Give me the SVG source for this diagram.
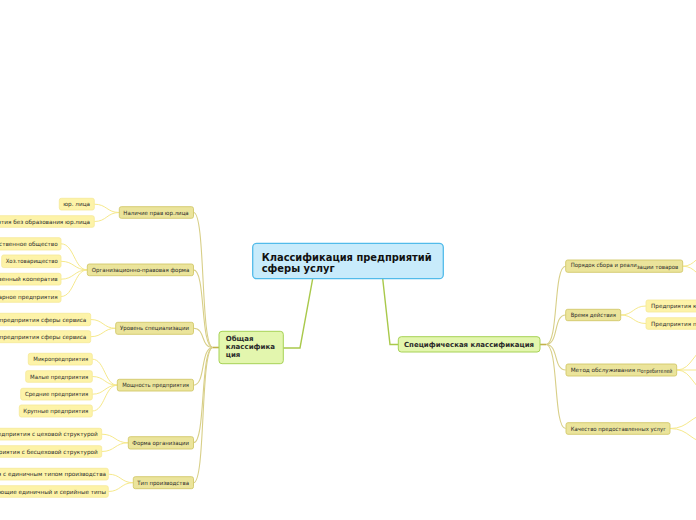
<svg xmlns="http://www.w3.org/2000/svg" width="696" height="520" viewBox="0 0 696 520">
<style>
.bg{fill:#ffffff}
.root rect{fill:#c8ebfb;stroke:#52bbea;stroke-width:1.3}
.l1 rect{fill:#e3f6ae;stroke:#a7d256;stroke-width:1}
.l2 rect{fill:#ebe49b;stroke:#d2c86a;stroke-width:0.9}
.l3 rect{fill:#fdf3a8;stroke:#f5e998;stroke-width:0.8}
text{font-family:"DejaVu Sans",Verdana,sans-serif;fill:#2a2a2a}
.t{font-size:5.7px}
.b1{font-size:7px;font-weight:bold}
.b0{font-size:10.8px;font-weight:bold;fill:#111}
.c0{fill:none;stroke:#a9c94b;stroke-width:1.4}
.c1{fill:none;stroke:#d8cf88;stroke-width:1.1}
.c2{fill:none;stroke:#f6e98c;stroke-width:1}
.stub{fill:none;stroke:#c2b24a;stroke-width:1.6}
</style>
<rect class="bg" x="0" y="0" width="696" height="520"/>
<g id="connectors">
<path class="c0" d="M312.7 278.7 L300 348 L283.3 348"/>
<path class="c0" d="M382.7 278.7 L390 344.5 L398.3 344.5"/>
<path class="stub" d="M213 347.5 L219 347.5"/>
<path class="stub" d="M540 344.5 L546 344.5"/>
<path class="c1" d="M213 347.5 C200 347.5 206 212.5 193.5 212.5"/>
<path class="c1" d="M213 347.5 C200 347.5 206 269.9 193.5 269.9"/>
<path class="c1" d="M213 347.5 C200 347.5 206 328.3 193.5 328.3"/>
<path class="c1" d="M213 347.5 C200 347.5 206 385.2 193.5 385.2"/>
<path class="c1" d="M213 347.5 C200 347.5 206 442.8 193.5 442.8"/>
<path class="c1" d="M213 347.5 C200 347.5 206 482.7 193.5 482.7"/>
<path class="c1" d="M546 344.5 C559 344.5 553 266.2 565.7 266.2"/>
<path class="c1" d="M546 344.5 C559 344.5 553 315 565.7 315"/>
<path class="c1" d="M546 344.5 C559 344.5 553 370 565.7 370"/>
<path class="c1" d="M546 344.5 C559 344.5 553 428.5 565.7 428.5"/>
<path class="c2" d="M119.3 212.5 C106.8 212.5 106.8 204.2 94.3 204.2"/>
<path class="c2" d="M119.3 212.5 C106.8 212.5 106.8 221.5 94.3 221.5"/>
<path class="c2" d="M87.3 269.9 C74.2 269.9 74.2 243.8 61 243.8"/>
<path class="c2" d="M87.3 269.9 C74.2 269.9 74.2 261.3 61 261.3"/>
<path class="c2" d="M87.3 269.9 C74.2 269.9 74.2 279.2 61 279.2"/>
<path class="c2" d="M87.3 269.9 C74.2 269.9 74.2 296.5 61 296.5"/>
<path class="c2" d="M115.7 328.3 C103.2 328.3 103.2 319.5 90.7 319.5"/>
<path class="c2" d="M115.7 328.3 C103.2 328.3 103.2 336.7 90.7 336.7"/>
<path class="c2" d="M117.3 385.2 C104.8 385.2 104.8 359.2 92.3 359.2"/>
<path class="c2" d="M117.3 385.2 C104.8 385.2 104.8 376.5 92.3 376.5"/>
<path class="c2" d="M117.3 385.2 C104.8 385.2 104.8 394.2 92.3 394.2"/>
<path class="c2" d="M117.3 385.2 C104.8 385.2 104.8 411 92.3 411"/>
<path class="c2" d="M128.3 442.8 C115 442.8 115 434.2 101.7 434.2"/>
<path class="c2" d="M128.3 442.8 C115 442.8 115 451.5 101.7 451.5"/>
<path class="c2" d="M133.3 482.7 C120.8 482.7 120.8 474.2 108.3 474.2"/>
<path class="c2" d="M133.3 482.7 C120.8 482.7 120.8 491.5 108.3 491.5"/>
<path class="c2" d="M620.7 315 C633.3 315 633.3 306 646 306"/>
<path class="c2" d="M620.7 315 C633.3 315 633.3 323.5 646 323.5"/>
<path class="c2" d="M682.7 266.2 C696 266.2 696 254 710 254"/>
<path class="c2" d="M682.7 266.2 C696 266.2 696 278 710 278"/>
<path class="c2" d="M676.7 370 C693 370 693 348 710 348"/>
<path class="c2" d="M676.7 370 L710 370"/>
<path class="c2" d="M676.7 370 C693 370 693 392 710 392"/>
<path class="c2" d="M670 428.5 C690 428.5 690 414 710 414"/>
<path class="c2" d="M670 428.5 C690 428.5 690 443 710 443"/>
</g>
<g id="root" class="root">
<rect x="252.7" y="243.3" width="190.6" height="35.4" rx="4"/>
<text class="b0" x="261.7" y="260.5" textLength="170" lengthAdjust="spacingAndGlyphs">Классификация предприятий</text>
<text class="b0" x="261.7" y="272" textLength="73" lengthAdjust="spacingAndGlyphs">сферы услуг</text>
</g>
<g id="general" class="l1">
<rect x="219" y="331.3" width="64.3" height="32.4" rx="3"/>
<text class="b1" x="225.7" y="341.3">Общая</text>
<text class="b1" x="225.7" y="349" textLength="49.3" lengthAdjust="spacingAndGlyphs">классифика</text>
<text class="b1" x="225.7" y="356.7">ция</text>
</g>
<g id="specific" class="l1">
<rect x="398.3" y="336.7" width="141.7" height="15.3" rx="3"/>
<text class="b1" x="404" y="346.9" textLength="130" lengthAdjust="spacingAndGlyphs">Специфическая классификация</text>
</g>
<g id="n-a" class="l2">
<rect x="119.3" y="206.7" width="74.2" height="11.6" rx="2"/>
<text class="t" x="123.3" y="214.5" textLength="65.4" lengthAdjust="spacingAndGlyphs">Наличие прав юр.лица</text>
</g>
<g id="n-b" class="l2">
<rect x="87.3" y="264" width="106.2" height="11.7" rx="2"/>
<text class="t" x="91.7" y="271.9" textLength="97.6" lengthAdjust="spacingAndGlyphs">Организационно-правовая форма</text>
</g>
<g id="n-c" class="l2">
<rect x="115.7" y="322.3" width="77.8" height="12" rx="2"/>
<text class="t" x="120" y="330.3" textLength="69" lengthAdjust="spacingAndGlyphs">Уровень специализации</text>
</g>
<g id="n-d" class="l2">
<rect x="117.3" y="379.3" width="76.2" height="11.7" rx="2"/>
<text class="t" x="122.3" y="387.2" textLength="66.7" lengthAdjust="spacingAndGlyphs">Мощность предприятия</text>
</g>
<g id="n-e" class="l2">
<rect x="128.3" y="436.7" width="65.2" height="12.3" rx="2"/>
<text class="t" x="132.3" y="444.8" textLength="56.7" lengthAdjust="spacingAndGlyphs">Форма организации</text>
</g>
<g id="n-f" class="l2">
<rect x="133.3" y="476.7" width="60.2" height="12" rx="2"/>
<text class="t" x="137.3" y="484.7" textLength="51.7" lengthAdjust="spacingAndGlyphs">Тип производства</text>
</g>
<g id="n-a1" class="l3">
<rect x="59.3" y="198.3" width="35" height="11.7" rx="2"/>
<text class="t" x="63.3" y="206.2" textLength="26.7" lengthAdjust="spacingAndGlyphs">юр. лица</text>
</g>
<g id="n-a2" class="l3">
<rect x="-40" y="215.7" width="134.3" height="11.6" rx="2"/>
<text class="t" x="90" y="223.5" text-anchor="end">Предприятия без образования юр.лица</text>
</g>
<g id="n-b1" class="l3">
<rect x="-40" y="237.7" width="101" height="12.3" rx="2"/>
<text class="t" x="57.7" y="245.8" text-anchor="end">Хозяйственное общество</text>
</g>
<g id="n-b2" class="l3">
<rect x="1.7" y="255" width="59.3" height="12.6" rx="2"/>
<text class="t" x="5.7" y="263.3" textLength="52" lengthAdjust="spacingAndGlyphs">Хоз.товарищество</text>
</g>
<g id="n-b3" class="l3">
<rect x="-40" y="273.3" width="101" height="11.7" rx="2"/>
<text class="t" x="57.7" y="281.2" text-anchor="end">Производственный кооператив</text>
</g>
<g id="n-b4" class="l3">
<rect x="-40" y="290.7" width="101" height="11.6" rx="2"/>
<text class="t" x="57.7" y="298.5" text-anchor="end">Унитарное предприятия</text>
</g>
<g id="n-c1" class="l3">
<rect x="-40" y="313.3" width="130.7" height="12.4" rx="2"/>
<text class="t" x="86.3" y="321.5" text-anchor="end">Специал. предприятия сферы сервиса</text>
</g>
<g id="n-c2" class="l3">
<rect x="-40" y="330.7" width="130.7" height="12" rx="2"/>
<text class="t" x="86.3" y="338.7" text-anchor="end">Универсальные предприятия сферы сервиса</text>
</g>
<g id="n-d1" class="l3">
<rect x="28.3" y="353.3" width="64" height="11.7" rx="2"/>
<text class="t" x="33.3" y="361.2" textLength="55" lengthAdjust="spacingAndGlyphs">Микропредприятия</text>
</g>
<g id="n-d2" class="l3">
<rect x="25.7" y="370.7" width="66.6" height="11.6" rx="2"/>
<text class="t" x="30" y="378.5" textLength="58.3" lengthAdjust="spacingAndGlyphs">Малые предприятия</text>
</g>
<g id="n-d3" class="l3">
<rect x="20.7" y="388.3" width="71.6" height="11.7" rx="2"/>
<text class="t" x="25" y="396.2" textLength="63.3" lengthAdjust="spacingAndGlyphs">Средние предприятия</text>
</g>
<g id="n-d4" class="l3">
<rect x="19.3" y="405" width="73" height="12" rx="2"/>
<text class="t" x="23.3" y="413" textLength="65" lengthAdjust="spacingAndGlyphs">Крупные предприятия</text>
</g>
<g id="n-e1" class="l3">
<rect x="-40" y="428.3" width="141.7" height="11.7" rx="2"/>
<text class="t" x="97.7" y="436.2" text-anchor="end">Предприятия с цеховой структурой</text>
</g>
<g id="n-e2" class="l3">
<rect x="-40" y="445.7" width="141.7" height="11.6" rx="2"/>
<text class="t" x="97.7" y="453.5" text-anchor="end">Предприятия с бесцеховой структурой</text>
</g>
<g id="n-f1" class="l3">
<rect x="-40" y="468.3" width="148.3" height="11.7" rx="2"/>
<text class="t" x="106" y="476.2" text-anchor="end">Предприятия с единичным типом производства</text>
</g>
<g id="n-f2" class="l3">
<rect x="-40" y="485.7" width="148.3" height="11.6" rx="2"/>
<text class="t" x="106" y="493.5" text-anchor="end">Предприятия, сочетающие единичный и серийные типы</text>
</g>
<g id="n-ra" class="l2">
<rect x="565.7" y="260" width="117" height="12.3" rx="2"/>
<text class="t" x="570.7" y="267.3" textLength="66" lengthAdjust="spacingAndGlyphs">Порядок сбора и реали</text>
<text class="t" x="636.7" y="268.7" textLength="41.6" lengthAdjust="spacingAndGlyphs">зации товаров</text>
</g>
<g id="n-rb" class="l2">
<rect x="565.7" y="309.3" width="55" height="11.4" rx="2"/>
<text class="t" x="570.7" y="317" textLength="45.3" lengthAdjust="spacingAndGlyphs">Время действия</text>
</g>
<g id="n-rc" class="l2">
<rect x="566" y="364" width="110.7" height="12" rx="2"/>
<text class="t" x="570.7" y="371.7" textLength="70" lengthAdjust="spacingAndGlyphs">Метод обслуживания п</text>
<text class="t" x="640.7" y="372.7" textLength="31.6" lengthAdjust="spacingAndGlyphs">отребителей</text>
</g>
<g id="n-rd" class="l2">
<rect x="566" y="422.7" width="104" height="11.6" rx="2"/>
<text class="t" x="570.7" y="430.5" textLength="95.3" lengthAdjust="spacingAndGlyphs">Качество предоставленных услуг</text>
</g>
<g id="n-rb1" class="l3">
<rect x="646" y="300" width="110" height="12" rx="2"/>
<text class="t" x="651" y="308">Предприятия круглосуточного действия</text>
</g>
<g id="n-rb2" class="l3">
<rect x="646" y="317.7" width="110" height="11.6" rx="2"/>
<text class="t" x="651" y="325.5">Предприятия периодического действия</text>
</g>
</svg>
